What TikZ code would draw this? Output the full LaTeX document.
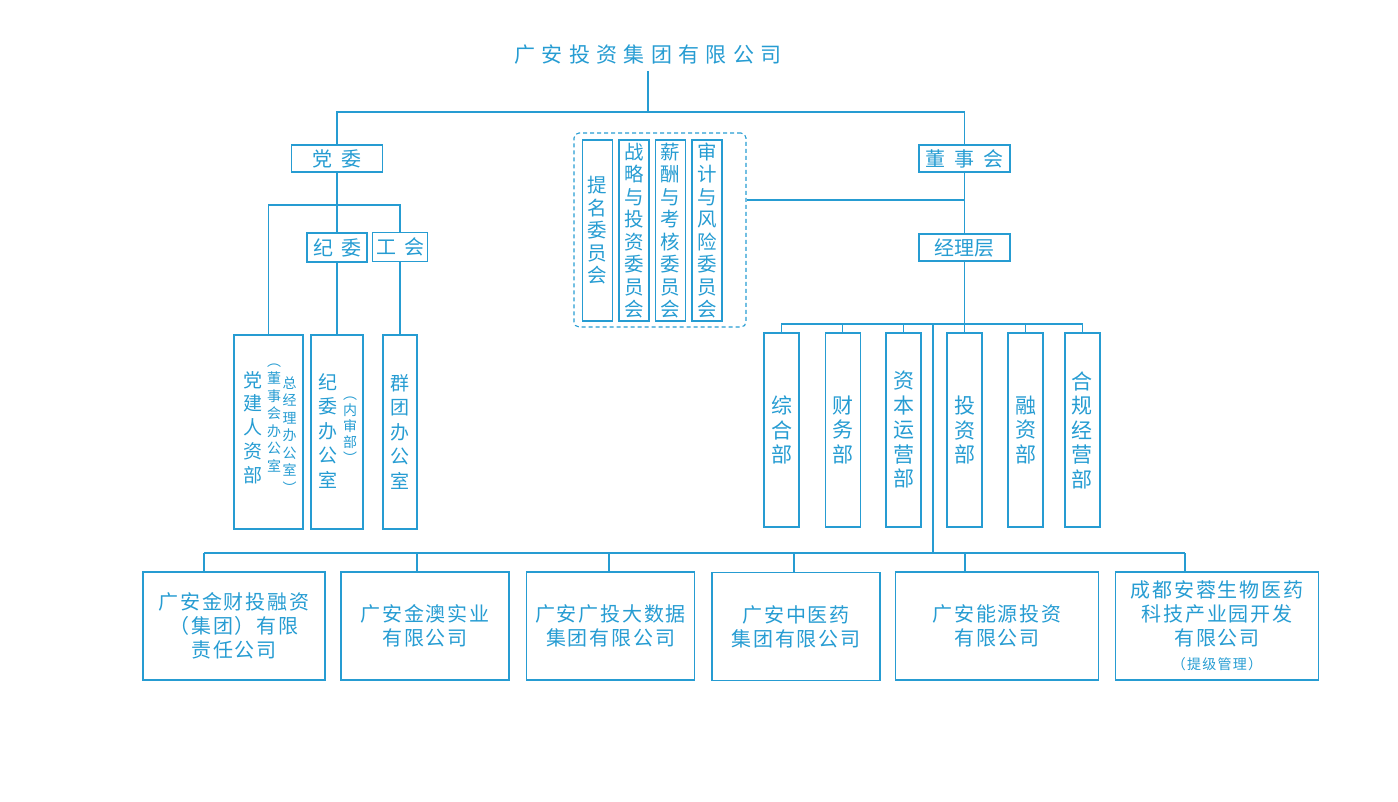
\documentclass[tikz,border=0pt]{standalone}
\usepackage{fontspec}
\setmainfont{Noto Sans CJK SC}
\usepackage{tikz}
\usetikzlibrary{
    calc,
    positioning
}
\definecolor{gablue}{RGB}{38,156,210}
\newcommand{\ftsz}[2]{\fontsize{#1}{#2}\selectfont}
\newcommand{\deptbox}[3]{
    \node[dept] (#1) at (#2, 430) {#3};
}
\tikzset{
    ln/.style={draw=gablue, line width=1.2pt},
    bx/.style={ln, text=gablue, inner sep=0pt, align=center},
    lab/.style={text=gablue, inner sep=0pt, align=center},
    hd/.style={bx, minimum height=27pt, font=\ftsz{20}{24}\addfontfeature{LetterSpace=45}},
    dept/.style={bx, minimum width=35pt, minimum height=194pt, font=\ftsz{21}{24.5}},
    cmte/.style={bx, minimum width=30pt, minimum height=181pt, font=\ftsz{19.5}{22.5}},
    co/.style={bx, minimum height=108pt, font=\ftsz{20}{24}\addfontfeature{LetterSpace=9}}
}

\begin{document}
\begin{tikzpicture}[x=1pt, y=-1pt]
    \useasboundingbox (0,0) rectangle (1398,802);
    \node[lab, inner sep=6pt, font=\ftsz{21}{24}\addfontfeature{LetterSpace=30}] (top) at (648,55) {广安投资集团有限公司};
    \node[hd, minimum width=91pt] (dw) at (337,158.5) {党委};
    \node[hd, minimum width=91pt] (dsh) at (964.5,158.5) {董事会};
    \node[hd, minimum width=91pt, font=\ftsz{20}{24}] (jlc) at (964.5,247.5) {经理层};
    \node[hd, minimum width=60pt, minimum height=29pt, font=\ftsz{20}{24}\addfontfeature{LetterSpace=40}] (jw) at (337,247.5) {纪委};
    \node[hd, minimum width=55pt, minimum height=29pt, font=\ftsz{20}{24}\addfontfeature{LetterSpace=40}] (gh) at (400,247) {工会};

    \node[bx, minimum width=69pt, minimum height=194pt] (djr) at (268.5,432) {};
    \node[lab, font=\ftsz{19}{23.75}] (djrt) at (253,427.5) {党\\建\\人\\资\\部};
    \node[lab, font=\ftsz{14}{17.5}] (djrn1) at (274,418) {︵\\董\\事\\会\\办\\公\\室};
    \node[lab, font=\ftsz{14}{17.5}] (djrn2) at (289.5,435) {总\\经\\理\\办\\公\\室\\︶};
    \node[bx, minimum width=52pt, minimum height=194pt] (jwb) at (337,432) {};
    \node[lab, font=\ftsz{19}{24.5}] (jwbt) at (328,431) {纪\\委\\办\\公\\室};
    \node[lab, font=\ftsz{14}{16}] (jwbn) at (350,430) {︵\\内\\审\\部\\︶};
    \node[bx, minimum width=34pt, minimum height=194pt, font=\ftsz{19}{24.5}] (qt) at (400,432) {群\\团\\办\\公\\室};

    \node[draw=gablue, line width=1.1pt, dash pattern=on 4pt off 3pt, rounded corners=5pt, minimum width=172pt, minimum height=194pt] (wyh) at (660,230) {};
    \node[cmte] (tm) at (597.7,230.5) {提\\名\\委\\员\\会};
    \node[cmte] (zl) at (634,230.5) {战\\略\\与\\投\\资\\委\\员\\会};
    \node[cmte] (xc) at (670.5,230.5) {薪\\酬\\与\\考\\核\\委\\员\\会};
    \node[cmte] (sj) at (707,230.5) {审\\计\\与\\风\\险\\委\\员\\会};

    \deptbox{zh}{781.5}{综\\合\\部}
    \deptbox{cw}{842.7}{财\\务\\部}
    \deptbox{zb}{903.5}{资\\本\\运\\营\\部}
    \deptbox{tz}{964.5}{投\\资\\部}
    \deptbox{rz}{1025.5}{融\\资\\部}
    \deptbox{hg}{1082.4}{合\\规\\经\\营\\部}

    \node[co, minimum width=182pt] (gs1) at (234,626) {广安金财投融资\\（集团）有限\\责任公司};
    \node[co, minimum width=168pt] (gs2) at (425,626) {广安金澳实业\\有限公司};
    \node[co, minimum width=168pt] (gs3) at (610.5,626) {广安广投大数据\\集团有限公司};
    \node[co, minimum width=168pt] (gs4) at (796,626.5) {广安中医药\\集团有限公司};
    \node[co, minimum width=203pt] (gs5) at (997,626) {广安能源投资\\有限公司};
    \node[co, minimum width=203pt] (gs6) at (1217,626) {成都安蓉生物医药\\科技产业园开发\\有限公司\\{\ftsz{14}{17}（提级管理）}};

    \coordinate (b1) at (648,112);
    \coordinate (b2) at (337,205);
    \coordinate (c1) at (wyh.east |- 0,200);
    \coordinate (b3) at (964.5,324);
    \coordinate (t1) at (933,324);
    \coordinate (b4) at (933,553);
    \coordinate (bl) at (204,553);
    \coordinate (br) at (1185,553);
    \draw[ln]
    (top.south) -- (b1)
    (dw.north) |- (b1) -| (dsh.north)
    (dw.south) -- (jw.north)
    (djr.north) |- (b2) -| (gh.north)
    (jw.south) -- (jwb.north)
    (gh.south) -- (qt.north)
    (dsh.south) -- (jlc.north)
    (c1) -- (c1 -| dsh)
    (jlc.south) -- (tz.north)
    (zh.north) |- (b3) -| (hg.north)
    (t1) -- (b4)
    (bl) -- (br);
    \foreach \n in {cw,zb,rz}
        \draw[ln] (\n.north) -- (\n.north |- b3);
    \foreach \n/\x in {gs1/204,gs2/417,gs3/609,gs4/794,gs5/965,gs6/1185}
        \draw[ln] (\n.north -| \x,0) -- (b4 -| \x,0);
\end{tikzpicture}
\end{document}
